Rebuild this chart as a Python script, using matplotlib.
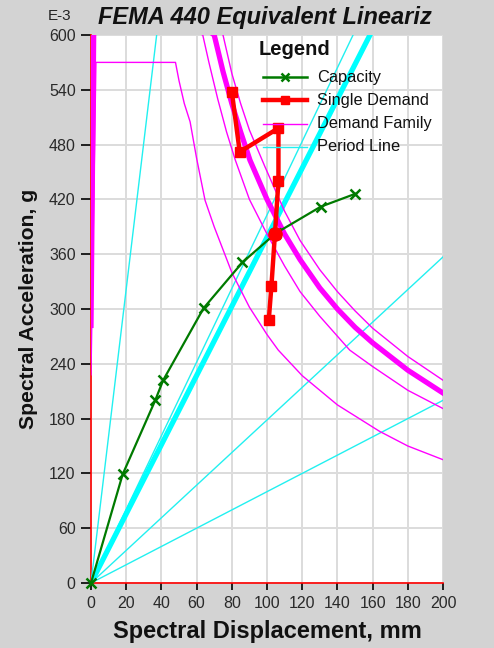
import matplotlib
matplotlib.use("Agg")
import matplotlib.pyplot as plt

plt.rcParams['font.family'] = ['Liberation Sans', 'DejaVu Sans']

# Capacity curve (Sd in mm, Sa in E-3 g)
cap_d = [0, 18, 36.5, 41, 64, 86, 105, 130.5, 150]
cap_a = [0, 119, 200, 222, 301, 351, 383, 412, 426]

# Single demand iteration path
dem_d = [80, 84.5, 106.5, 106.5, 104.5, 102.5, 101]
dem_a = [538, 472, 498, 440, 382, 325, 288]
perf_d = [104.5]
perf_a = [382]

# Demand family spectra
fam_c_d = [0, 2.8, 48, 50, 53, 56.3, 60, 64.8, 70, 80, 90, 100, 106.4, 120, 140,
           164, 180, 200]
fam_c_a = [228, 570, 570, 550, 525, 505, 465, 419, 390, 340, 302, 272, 255, 227,
           195, 166, 150, 135]
fam_b_d = [0, 1.8, 63.5, 67, 72, 77, 82, 90, 100, 110, 118.8, 130, 147, 160, 180,
           200]
fam_b_a = [262, 650, 600, 570, 530, 494, 463, 420, 382, 347, 319, 292, 255, 237,
           211, 191]
fam_a_d = [0, 2.2, 75, 80, 85, 90, 99, 110, 118.8, 130, 140, 150, 160, 180, 200]
fam_a_a = [300, 750, 600, 558, 525, 496, 455, 407, 375, 343, 319, 298, 279, 248,
           222]

# Demand at effective damping (thick)
eff_d = [0, 2.0, 70, 75, 80, 85, 90.3, 100, 110, 118.8, 130, 140, 150, 160, 180,
         200]
eff_a = [282, 700, 600, 560, 525, 494, 463, 420, 382, 354, 323, 300, 280, 263, 233,
         208]

# Period lines: end points from the origin
per_thin_d = [37.3, 148.9, 200, 200]
per_thin_a = [600, 600, 357, 200]
per_thick_d = [158.5]
per_thick_a = [600]

xticks = list(range(0, 201, 20))
yticks = list(range(0, 601, 60))

bg = '#d3d3d3'
fig = plt.figure(figsize=(4.94, 6.48), dpi=100, facecolor=bg)
ax = fig.add_axes([0.1842, 0.1003, 0.7126, 0.8457])
ax.set_facecolor('white')

ax.set_xlim(0, 200)
ax.set_ylim(0, 600)
ax.set_xticks(xticks)
ax.set_yticks(yticks)
ax.grid(True, color='#dcdcdc', linewidth=1.4, zorder=0)
ax.set_axisbelow(True)

for s in ('top', 'right'):
    ax.spines[s].set_visible(False)
for s in ('left', 'bottom'):
    ax.spines[s].set_color('red')
    ax.spines[s].set_linewidth(1.2)
    ax.spines[s].set_zorder(1)

ax.tick_params(axis='both', colors='black', labelcolor='#2a2a2a',
               labelsize=11.5, width=1.2, direction='out')
ax.tick_params(axis='y', length=7, pad=4)
ax.tick_params(axis='x', length=5, pad=4)

# period lines
for d, a in zip(per_thin_d, per_thin_a):
    ax.plot([0, d], [0, a], color='#22f0f0', lw=1.0, zorder=2)
for d, a in zip(per_thick_d, per_thick_a):
    ax.plot([0, d], [0, a], color='#00ffff', lw=3.8, zorder=2)

# demand family
for dd, aa in ((fam_a_d, fam_a_a), (fam_b_d, fam_b_a), (fam_c_d, fam_c_a)):
    ax.plot(dd, aa, color='#ff00ff', lw=1.0, zorder=3)
ax.plot(eff_d, eff_a, color='#ff00ff', lw=3.8, zorder=3)

# capacity
ax.plot(cap_d, cap_a, color='#007a00', lw=1.6, marker='x', ms=7, mew=1.8, zorder=5,
        clip_on=False)

# single demand
ax.plot(dem_d, dem_a, color='#ff0000', lw=3.2, marker='s', ms=6.5, zorder=6)
ax.plot(perf_d, perf_a, color='#ff0000', marker='o', ms=9.5, lw=0, zorder=7)

# legend
lx0, lx1 = 0.49, 0.615
ax.text(0.475, 0.973, 'Legend', transform=ax.transAxes, fontsize=14.5,
        fontweight='bold', va='center', ha='left', color='#111111')
entries = [
    ('Capacity', dict(color='#007a00', lw=1.8), dict(marker='x', ms=6, mew=1.8)),
    ('Single Demand', dict(color='#ff0000', lw=3.2), dict(marker='s', ms=5.5)),
    ('Demand Family', dict(color='#ff00ff', lw=1.0), None),
    ('Period Line', dict(color='#22f0f0', lw=1.0), None),
]
ys = [0.923, 0.881, 0.838, 0.796]
for (lab, st, mk), y in zip(entries, ys):
    ax.plot([lx0, lx1], [y, y], transform=ax.transAxes, zorder=8, **st)
    if mk:
        ax.plot([(lx0 + lx1) / 2], [y], transform=ax.transAxes, zorder=8,
                color=st['color'], lw=0, **mk)
    ax.text(0.642, y, lab, transform=ax.transAxes, fontsize=11.8, va='center',
            ha='left', color='#111111', zorder=9)

fig.text(0.536, 0.973, 'FEMA 440 Equivalent Lineariz', fontsize=17,
         fontweight='bold', style='italic', ha='center', va='center',
         color='#111111')
fig.text(0.121, 0.975, 'E-3', fontsize=11, ha='center', va='center', color='#222222')

ax.set_xlabel('Spectral Displacement, mm', fontsize=17, fontweight='bold',
              color='#111111')
ax.xaxis.set_label_coords(0.5, -0.068)
ax.set_ylabel('Spectral Acceleration, g', fontsize=15.2, fontweight='bold',
              color='#111111')
ax.yaxis.set_label_coords(-0.15, 0.5)

fig.savefig('out.png', dpi=100, facecolor=bg)
